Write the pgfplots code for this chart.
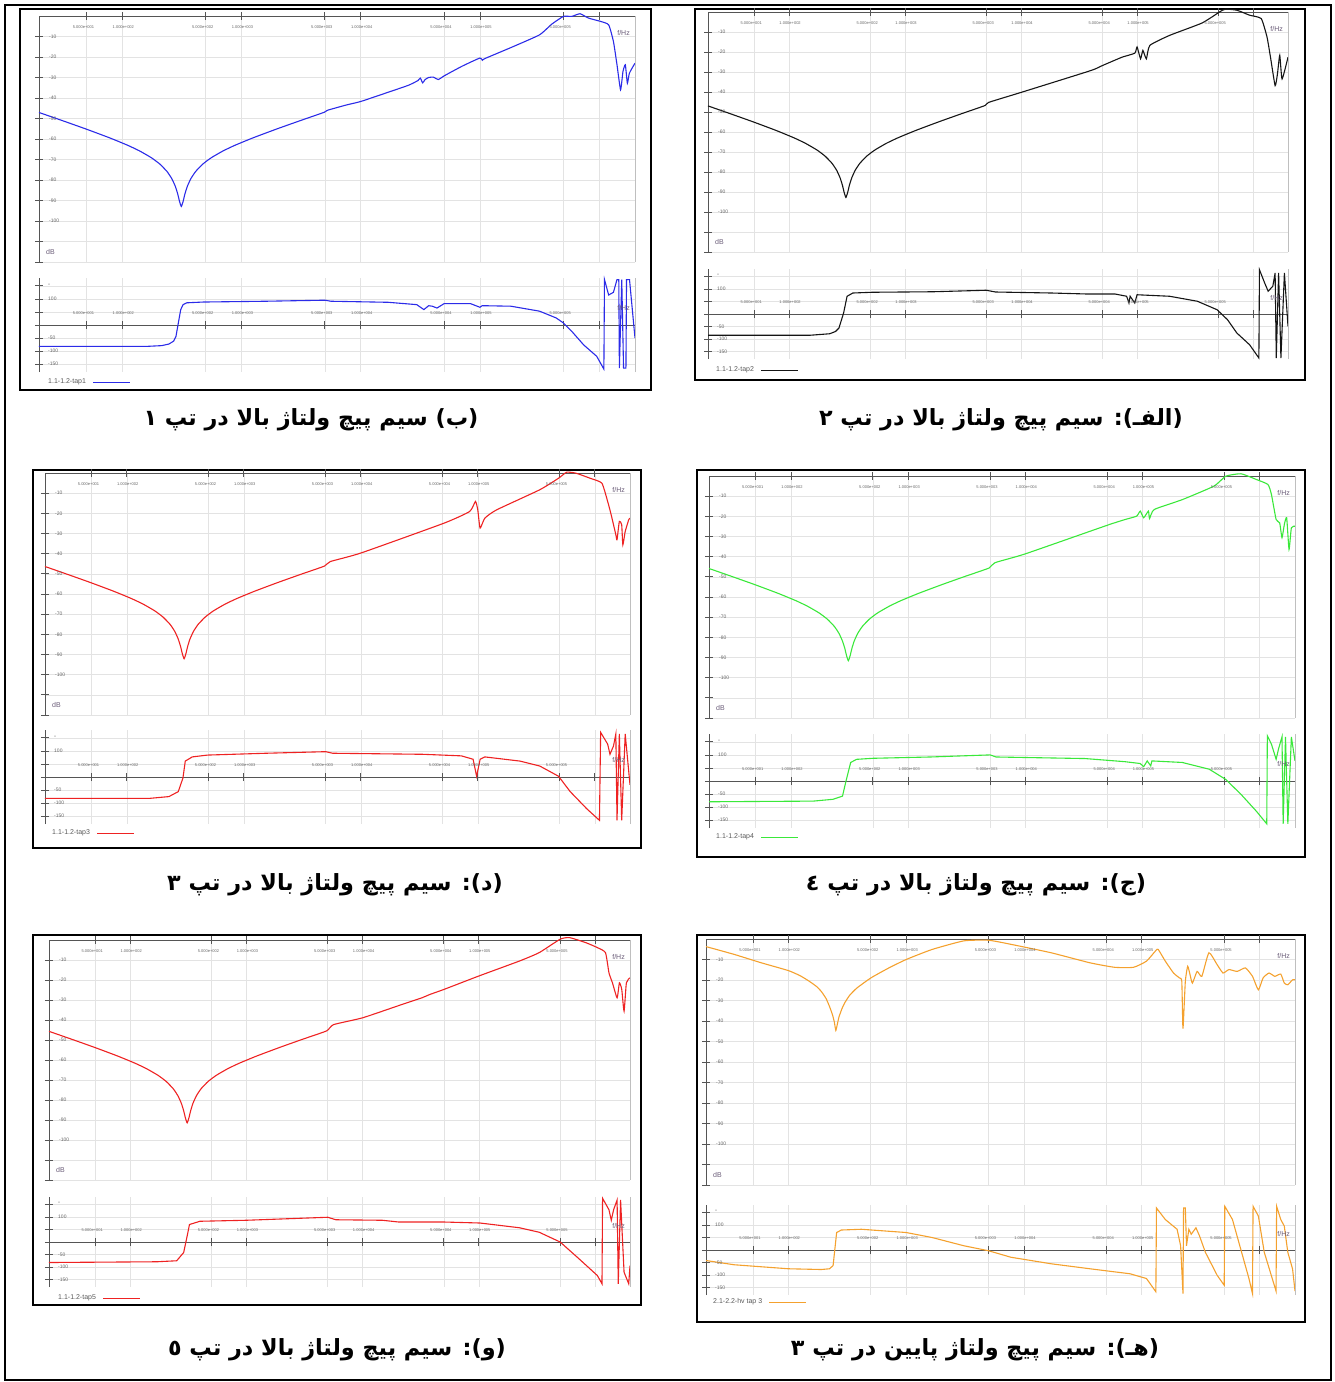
\documentclass[border=0pt]{standalone}
\usepackage{fontspec}
\setmainfont{Liberation Sans}
\newfontfamily\arabicfont[Script=Arabic]{DejaVu Sans}
\TeXXeTstate=1
\usepackage{pgfplots}
\usepackage{pgfplotstable}
\pgfplotsset{compat=1.18}

\definecolor{cB}{HTML}{2B2BE8}
\definecolor{cA}{HTML}{151515}
\definecolor{cR}{HTML}{EE2222}
\definecolor{cG}{HTML}{3AE83A}
\definecolor{cO}{HTML}{F4A12E}
\definecolor{axc}{HTML}{555555}
\definecolor{labc}{HTML}{666666}
\definecolor{unitc}{HTML}{6A5C78}

% ---------- data: x = log10(f/Hz) ----------
\pgfplotstableread{
x y
1.301 -47.06
1.495 -50.99
1.695 -55.12
1.895 -59.47
2.045 -63.06
2.145 -65.82
2.245 -69.18
2.315 -72.24
2.375 -75.85
2.415 -79.33
2.445 -83.15
2.465 -86.85
2.48 -90.46
2.495 -92.9
2.51 -90.46
2.525 -86.85
2.545 -83.15
2.575 -79.33
2.615 -75.85
2.675 -72.24
2.745 -69.18
2.845 -65.82
2.945 -63.06
3.095 -59.47
3.295 -55.12
3.495 -50.99
3.695 -46.94
3.72 -46.0
3.88 -43.4
4.00 -41.7
4.23 -37.2
4.40 -33.8
4.48 -31.5
4.50 -30.3
4.52 -32.6
4.54 -31.0
4.57 -30.0
4.61 -29.8
4.65 -31.0
4.70 -29.2
4.85 -24.5
5.00 -20.5
5.02 -21.6
5.04 -20.8
5.26 -15.4
5.50 -9.2
5.60 -4.1
5.70 -0.2
5.77 -0.2
5.84 1.1
5.91 -1.0
6.01 -2.6
6.08 -4.3
6.12 -12.4
6.15 -23.8
6.18 -36.0
6.20 -27.1
6.22 -23.8
6.237 -32.8
6.254 -27.9
6.301 -23.0
}\magB
\pgfplotstableread{
x y
1.301 -82
2.20 -82
2.33 -79
2.39 -73
2.43 -62
2.45 -44
2.47 8
2.49 59
2.51 78
2.54 85
2.68 88
3.20 91
3.70 95
3.75 91
4.23 87
4.47 78
4.53 59
4.57 74
4.60 72
4.64 65
4.70 82
4.92 82
5.00 68
5.02 74
5.26 72
5.50 53
5.64 27
5.70 8
5.77 -24
5.87 -76
5.98 -120
6.04 -169
6.045 174
6.08 115
6.12 125
6.15 174
6.165 174
6.17 -165
6.19 174
6.205 -165
6.225 -165
6.23 174
6.255 174
6.301 -50
}\phB

\pgfplotstableread{
x y
1.301 -46.96
1.49 -50.79
1.69 -54.92
1.89 -59.27
2.04 -62.86
2.14 -65.62
2.24 -68.98
2.31 -72.04
2.37 -75.65
2.41 -79.13
2.44 -82.95
2.46 -86.65
2.475 -90.26
2.49 -92.7
2.505 -90.26
2.52 -86.65
2.54 -82.95
2.57 -79.13
2.61 -75.65
2.67 -72.04
2.74 -68.98
2.84 -65.62
2.94 -62.86
3.09 -59.27
3.29 -54.92
3.49 -50.79
3.69 -46.74
3.72 -45.2
4.00 -40.2
4.60 -29.3
4.70 -26.8
4.87 -22.6
4.98 -20.6
5.00 -17.5
5.03 -23.4
5.05 -19.2
5.08 -23.4
5.11 -16.7
5.28 -11.7
5.56 -5.5
5.71 0
5.76 1.4
5.86 0.9
5.97 -1.6
6.07 -3.3
6.12 -12.5
6.15 -22.6
6.19 -36.8
6.21 -31.0
6.23 -21.7
6.25 -33.5
6.301 -22.6
}\magA
\pgfplotstableread{
x y
1.301 -85
2.18 -85
2.35 -79
2.40 -70
2.43 -56
2.47 4
2.50 71
2.55 84
2.72 87
3.24 89
3.70 95
3.78 88
4.26 84
4.57 80
4.81 80
4.91 71
4.93 44
4.94 71
4.98 44
5.00 77
5.28 71
5.52 51
5.69 17
5.78 -23
5.86 -76
5.97 -123
6.05 -176
6.055 177
6.10 124
6.13 91
6.17 111
6.19 164
6.20 -176
6.22 164
6.24 -176
6.27 164
6.301 -49
}\phA

\pgfplotstableread{
x y
1.301 -46.36
1.49 -50.19
1.69 -54.32
1.89 -58.67
2.04 -62.26
2.14 -65.02
2.24 -68.38
2.31 -71.44
2.37 -75.05
2.41 -78.53
2.44 -82.35
2.46 -86.05
2.475 -89.66
2.49 -92.1
2.505 -89.66
2.52 -86.05
2.54 -82.35
2.57 -78.53
2.61 -75.05
2.67 -71.44
2.74 -68.38
2.84 -65.02
2.94 -62.26
3.09 -58.67
3.29 -54.32
3.49 -50.19
3.69 -46.14
3.74 -43.9
4.00 -39.7
4.71 -24.9
4.93 -19.1
4.98 -14.1
5.00 -18.3
5.02 -27.3
5.06 -22.4
5.16 -18.3
5.53 -8.3
5.69 -2.6
5.76 0.4
5.84 -0.1
5.96 -2.6
6.06 -5.0
6.11 -14.1
6.14 -20.7
6.18 -30.6
6.19 -33.1
6.21 -24.0
6.23 -25.7
6.24 -35.6
6.26 -29.0
6.29 -23.2
6.301 -22.4
}\magD
\pgfplotstableread{
x y
1.301 -82
2.19 -82
2.36 -75
2.44 -56
2.48 -4
2.50 61
2.56 77
2.69 84
3.19 91
3.70 97
3.76 91
4.53 87
4.86 81
4.96 68
4.99 3
5.02 68
5.06 77
5.36 61
5.53 42
5.69 3
5.79 -56
5.93 -121
6.04 -166
6.05 171
6.11 126
6.13 87
6.16 119
6.18 165
6.19 -166
6.21 165
6.23 -166
6.26 165
6.301 -30
}\phD

\pgfplotstableread{
x y
1.301 -45.86
1.49 -49.69
1.69 -53.82
1.89 -58.17
2.04 -61.76
2.14 -64.52
2.24 -67.88
2.31 -70.94
2.37 -74.55
2.41 -78.03
2.44 -81.85
2.46 -85.55
2.475 -89.16
2.49 -91.6
2.505 -89.16
2.52 -85.55
2.54 -81.85
2.57 -78.03
2.61 -74.55
2.67 -70.94
2.74 -67.88
2.84 -64.52
2.94 -61.76
3.09 -58.17
3.29 -53.82
3.49 -49.69
3.69 -45.64
3.74 -43.0
4.00 -38.6
4.70 -24.4
4.85 -21.6
4.95 -19.9
4.98 -17.4
5.01 -20.7
5.05 -17.4
5.06 -21.1
5.10 -16.6
5.34 -11.7
5.61 -5.0
5.71 -0.1
5.84 1.1
5.97 -1.7
6.07 -4.2
6.10 -9.2
6.14 -21.6
6.17 -23.2
6.19 -30.6
6.21 -24.0
6.23 -20.7
6.25 -36.4
6.27 -25.7
6.301 -24.9
}\magC
\pgfplotstableread{
x y
1.301 -79.5
2.19 -77
2.36 -70
2.44 -58
2.47 0
2.51 71
2.56 83
2.70 87
3.19 92
3.70 100
3.75 92
4.51 86
4.85 74
4.98 67
5.01 55
5.04 77
5.07 58
5.08 77
5.34 71
5.57 45
5.71 6
5.84 -51
5.97 -115
6.06 -164
6.065 173
6.10 141
6.14 83
6.16 122
6.19 169
6.20 -164
6.22 169
6.24 -164
6.27 169
6.301 77
}\phC

\pgfplotstableread{
x y
1.301 -45.66
1.49 -49.49
1.69 -53.62
1.89 -57.97
2.04 -61.56
2.14 -64.32
2.24 -67.68
2.31 -70.74
2.37 -74.35
2.41 -77.83
2.44 -81.65
2.46 -85.35
2.475 -88.96
2.49 -91.4
2.505 -88.96
2.52 -85.35
2.54 -81.65
2.57 -77.83
2.61 -74.35
2.67 -70.74
2.74 -67.68
2.84 -64.32
2.94 -61.56
3.09 -57.97
3.29 -53.62
3.49 -49.49
3.69 -45.44
3.75 -42.3
4.00 -38.9
4.31 -32.8
4.51 -28.9
4.58 -27.2
4.70 -24.7
5.00 -18.0
5.35 -10.5
5.52 -6.3
5.70 0.4
5.78 1.2
5.92 -1.3
6.02 -3.8
6.09 -6.3
6.12 -16.4
6.15 -21.4
6.19 -28.9
6.21 -21.4
6.23 -24.7
6.25 -35.6
6.27 -21.4
6.301 -18.9
}\magF
\pgfplotstableread{
x y
1.301 -82
2.23 -79
2.40 -75
2.46 -42
2.49 24
2.51 70
2.60 83
3.00 87
3.70 99
3.77 89
4.17 87
4.31 80
4.51 80
4.70 80
5.01 76
5.35 57
5.52 39
5.70 0
5.85 -62
6.02 -134
6.06 -167
6.065 175
6.12 129
6.14 87
6.16 129
6.19 168
6.20 -167
6.22 168
6.25 -121
6.29 -167
6.301 -95
}\phF

\pgfplotstableread{
x y
1.301 -3.7
1.54 -7.5
1.77 -11.6
2.00 -15.4
2.10 -17.9
2.18 -20.7
2.24 -23.2
2.28 -25.6
2.32 -29.0
2.35 -33.0
2.375 -37.0
2.39 -40.4
2.403 -44.6
2.415 -41.8
2.43 -38.0
2.455 -34.0
2.48 -31.0
2.52 -27.5
2.58 -24.0
2.70 -19.0
2.85 -14.2
3.00 -10.0
3.22 -5.1
3.49 -0.9
3.70 -0.6
3.89 -2.6
4.23 -6.7
4.56 -11.6
4.77 -13.8
4.93 -13.8
5.04 -10.8
5.12 -5.6
5.14 -5.1
5.20 -10.8
5.27 -16.6
5.32 -19.0
5.34 -20.7
5.35 -43.7
5.37 -20.7
5.39 -13.3
5.41 -17.4
5.43 -21.5
5.47 -15.8
5.51 -18.2
5.57 -6.7
5.64 -12.5
5.69 -16.6
5.74 -14.9
5.81 -15.8
5.88 -14.1
5.94 -18.2
5.99 -24.8
6.03 -19.0
6.08 -16.6
6.13 -18.2
6.18 -17.1
6.21 -21.5
6.24 -22.3
6.28 -19.9
6.301 -19.9
}\magE
\pgfplotstableread{
x y
1.301 -42
1.54 -59
2.00 -75
2.28 -78
2.35 -75
2.38 -62
2.41 70
2.45 80
2.62 83
3.00 70
3.22 50
3.49 17
3.70 -3
3.89 -29
4.23 -55
4.56 -75
4.90 -95
5.04 -114
5.12 -167
5.125 168
5.20 122
5.30 83
5.33 17
5.35 -174
5.355 168
5.37 168
5.38 17
5.40 83
5.42 63
5.46 89
5.49 57
5.54 -9
5.64 -101
5.70 -141
5.705 175
5.77 122
5.84 4
5.91 -114
5.94 -174
5.945 175
5.99 136
6.04 -9
6.14 -164
6.145 175
6.18 122
6.21 96
6.24 -9
6.28 -75
6.301 -164
}\phE

\tikzset{
  ylab/.style={anchor=west, inner sep=0pt, text=labc, font=\fontsize{5}{5}\selectfont},
  xlab/.style={inner sep=0pt, text=labc, font=\fontsize{4}{4}\selectfont},
  unitlab/.style={inner sep=0pt, text=unitc, font=\fontsize{7}{7}\selectfont},
  capt/.style={font=\arabicfont\bfseries\fontsize{22.3}{25}\selectfont, inner sep=0pt},
}
\pgfplotsset{
  bodebase/.style={scale only axis, anchor=north west,
    xmin=1.30103, xmax=6.30103, clip=false,
    xtick={1.69897,2,2.69897,3,3.69897,4,4.69897,5,5.69897,6},
    xticklabels={}, yticklabels={},
    tick align=center, major tick length=8pt,
    tick style={draw=axc, line width=0.7pt},
    axis line style={draw=axc, line width=1pt, -},
    grid=major, grid style={draw=black!11, line width=0.5pt}},
  magax/.style={bodebase, ymin=-120, ymax=0, ytick={-120,-110,...,-10},
    axis x line=top, axis y line=left, axis line style={-}},
  phax/.style={bodebase, ymin=-180, ymax=180, ytick={-150,-100,...,150},
    axis x line=middle, axis y line=left, axis line style={-}},
}

\newcommand\xlabs[1]{%
  \node[xlab, xshift=-3pt] at (axis cs:1.69897,#1) {5.000e+001};
  \node[xlab, xshift=1pt] at (axis cs:2,#1) {1.000e+002};
  \node[xlab, xshift=-3pt] at (axis cs:2.69897,#1) {5.000e+002};
  \node[xlab, xshift=1pt] at (axis cs:3,#1) {1.000e+003};
  \node[xlab, xshift=-3pt] at (axis cs:3.69897,#1) {5.000e+003};
  \node[xlab, xshift=1pt] at (axis cs:4,#1) {1.000e+004};
  \node[xlab, xshift=-3pt] at (axis cs:4.69897,#1) {5.000e+004};
  \node[xlab, xshift=1pt] at (axis cs:5,#1) {1.000e+005};
  \node[xlab, xshift=-3pt] at (axis cs:5.69897,#1) {5.000e+005};
}
\newcommand\magdecor{%
  \draw[black!25, line width=0.8pt] (rel axis cs:1,0) -- (rel axis cs:1,1);
  \pgfplotsinvokeforeach{-10,-20,-30,-40,-50,-60,-70,-80,-90,-100}{%
    \node[ylab, xshift=10pt] at (axis cs:1.30103,##1) {##1};}
  \xlabs{-5.5}
  \node[unitlab, anchor=west, xshift=7pt] at (axis cs:1.30103,-115) {dB};
  \node[unitlab, anchor=east, xshift=-5pt] at (axis cs:6.30103,-8.5) {f/Hz};
}
\newcommand\phdecor{%
  \draw[black!25, line width=0.8pt] (rel axis cs:1,0) -- (rel axis cs:1,1);
  \pgfplotsinvokeforeach{100,-50,-100,-150}{%
    \node[ylab, xshift=9pt] at (axis cs:1.30103,##1) {##1};}
  \node[ylab, xshift=9pt] at (axis cs:1.30103,152) {\textdegree};
  \xlabs{47}
  \node[unitlab, anchor=east, xshift=-5pt] at (axis cs:6.30103,64) {f/Hz};
}
% #1 L, #2 R, #3 mag top, #4 mag bottom, #5 phase top, #6 phase bottom, #7 colour, #8 mag table, #9 phase table
\newcommand\bode[9]{%
  \pgfmathsetmacro\pw{#2-#1}%
  \pgfmathsetmacro\mh{#4-#3}%
  \pgfmathsetmacro\phh{#6-#5}%
  \begin{axis}[magax, at={(#1pt,-#3pt)}, width=\pw pt, height=\mh pt]
    \addplot[draw=#7, line width=1.1pt, smooth, tension=0.3] table {#8};
    \magdecor
  \end{axis}
  \begin{axis}[phax, at={(#1pt,-#5pt)}, width=\pw pt, height=\phh pt]
    \addplot[draw=#7, line width=1.1pt] table {#9};
    \phdecor
  \end{axis}
}
% legend: #1 x, #2 y, #3 text, #4 colour
\newcommand\leg[4]{%
  \node[anchor=west, inner sep=0pt, text=black!65, font=\fontsize{7}{7}\selectfont] (lg) at (#1pt,-#2pt) {#3};
  \draw[draw=#4, line width=1pt] ([xshift=7pt]lg.east) -- ([xshift=44pt]lg.east);
}

\begin{document}
\begin{tikzpicture}
\useasboundingbox (0pt,0pt) rectangle (1335pt,-1382pt);
\draw[line width=1.5pt] (5pt,-5pt) rectangle (1331pt,-1380pt);

% panel frames
\draw[line width=2.2pt] (20pt,-9pt) rectangle (651pt,-390pt);
\draw[line width=2.2pt] (695pt,-9pt) rectangle (1305pt,-380pt);
\draw[line width=2.2pt] (33pt,-470pt) rectangle (641pt,-848pt);
\draw[line width=2.2pt] (697pt,-470pt) rectangle (1305pt,-857pt);
\draw[line width=2.2pt] (33pt,-935pt) rectangle (641pt,-1305pt);
\draw[line width=2.2pt] (697pt,-935pt) rectangle (1305pt,-1322pt);

% plots
\bode{39}{635}{16}{262}{278}{372}{cB}{\magB}{\phB}
\bode{708}{1288}{12}{252}{269}{359}{cA}{\magA}{\phA}
\bode{45}{630}{473}{715}{730}{824}{cR}{\magD}{\phD}
\bode{709}{1295}{476}{718}{734}{828}{cG}{\magC}{\phC}
\bode{49}{630}{940}{1180}{1197}{1287}{cR}{\magF}{\phF}
\bode{706}{1295}{939}{1185}{1205}{1295}{cO}{\magE}{\phE}

% legends
\leg{48}{382}{1.1-1.2-tap1}{cB}
\leg{716}{370}{1.1-1.2-tap2}{cA}
\leg{52}{833}{1.1-1.2-tap3}{cR}
\leg{716}{837}{1.1-1.2-tap4}{cG}
\leg{58}{1298}{1.1-1.2-tap5}{cR}
\leg{713}{1302}{2.1-2.2-hv tap 3}{cO}

% captions
\node[capt] at (311pt,-420pt) {\beginR (ب) سیم پیچ ولتاژ بالا در تپ ١\endR};
\node[capt] at (1001pt,-420pt) {\beginR (الفـ): سیم پیچ ولتاژ بالا در تپ ٢\endR};
\node[capt] at (335pt,-885pt) {\beginR (د): سیم پیچ ولتاژ بالا در تپ ٣\endR};
\node[capt] at (976pt,-885pt) {\beginR (ج): سیم پیچ ولتاژ بالا در تپ ٤\endR};
\node[capt] at (337pt,-1350pt) {\beginR (و): سیم پیچ ولتاژ بالا در تپ ٥\endR};
\node[capt] at (975pt,-1350pt) {\beginR (هـ): سیم پیچ ولتاژ پایین در تپ ٣\endR};
\end{tikzpicture}
\end{document}
